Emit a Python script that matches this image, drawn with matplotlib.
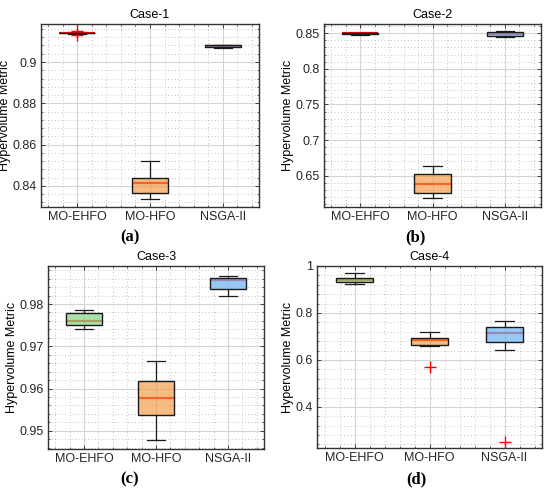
import matplotlib.pyplot as plt
from matplotlib.ticker import AutoMinorLocator, MultipleLocator

algorithms = ['MO-EHFO', 'MO-HFO', 'NSGA-II']
cases = ['Case-1', 'Case-2', 'Case-3', 'Case-4']
panel_tags = ['(a)', '(b)', '(c)', '(d)']

# per case: [lower whisker, Q1, median, Q3, upper whisker] for each algorithm
case1_stats = [
    [0.9138, 0.9139, 0.9140, 0.9142, 0.9143],
    [0.8337, 0.8368, 0.8416, 0.8437, 0.8523],
    [0.9068, 0.9072, 0.9076, 0.9080, 0.9083],
]
case2_stats = [
    [0.8475, 0.8485, 0.8497, 0.8502, 0.8510],
    [0.6182, 0.6261, 0.6383, 0.6524, 0.6640],
    [0.8445, 0.8455, 0.8490, 0.8511, 0.8525],
]
case3_stats = [
    [0.9740, 0.9750, 0.9759, 0.9778, 0.9787],
    [0.9478, 0.9537, 0.9578, 0.9618, 0.9665],
    [0.9820, 0.9835, 0.9858, 0.9861, 0.9866],
]
case4_stats = [
    [0.925, 0.932, 0.942, 0.950, 0.969],
    [0.659, 0.665, 0.683, 0.695, 0.719],
    [0.644, 0.676, 0.716, 0.739, 0.767],
]
case1_outliers = [[0.9148, 0.9133], [], []]
case2_outliers = [[], [], []]
case3_outliers = [[], [], []]
case4_outliers = [[], [0.572], [0.252]]

all_stats = [case1_stats, case2_stats, case3_stats, case4_stats]
all_outliers = [case1_outliers, case2_outliers, case3_outliers, case4_outliers]

ylims = [(0.8298, 0.9184), (0.606, 0.863), (0.9457, 0.989), (0.225, 1.0)]
yticks = [
    [0.84, 0.86, 0.88, 0.90],
    [0.65, 0.70, 0.75, 0.80, 0.85],
    [0.95, 0.96, 0.97, 0.98],
    [0.4, 0.6, 0.8, 1.0],
]
ytick_labels = [
    ['0.84', '0.86', '0.88', '0.9'],
    ['0.65', '0.7', '0.75', '0.8', '0.85'],
    ['0.95', '0.96', '0.97', '0.98'],
    ['0.4', '0.6', '0.8', '1'],
]

fill_colors = [(0.55, 0.85, 0.55, 0.75), (0.95, 0.60, 0.25, 0.65), (0.45, 0.72, 0.95, 0.75)]

plt.rcParams['font.family'] = ['Liberation Sans', 'DejaVu Sans']

fig = plt.figure(figsize=(5.5, 4.93), dpi=100)
W, H = 550, 493
# axes boxes in pixels: left, top, right, bottom
boxes_px = [(41, 24, 259, 207), (324, 24, 541, 207), (48, 266, 264, 449), (317, 266, 542, 448)]
tag_pos = [(130, 237), (415, 237), (130, 479), (416, 479)]

for i in range(4):
    l, t, r, b = boxes_px[i]
    ax = fig.add_axes([l / W, 1 - b / H, (r - l) / W, (b - t) / H])
    stats = []
    for j, name in enumerate(algorithms):
        lo, q1, med, q3, hi = all_stats[i][j]
        stats.append(dict(label=name, whislo=lo, q1=q1, med=med, q3=q3, whishi=hi,
                          fliers=all_outliers[i][j]))
    bp = ax.bxp(stats, positions=[1, 2, 3], widths=0.5, capwidths=0.25, patch_artist=True,
                boxprops=dict(edgecolor='#1a1a1a', linewidth=1.0, zorder=4),
                medianprops=dict(color='red', linewidth=1.6, zorder=3),
                whiskerprops=dict(color='#1a1a1a', linewidth=0.9),
                capprops=dict(color='#1a1a1a', linewidth=0.9),
                flierprops=dict(marker='+', markeredgecolor='red', markersize=8,
                                markeredgewidth=1.0, linestyle='none'))
    for patch, c in zip(bp['boxes'], fill_colors):
        patch.set_facecolor(c)

    ax.set_xlim(0.5, 3.5)
    ax.set_ylim(*ylims[i])
    ax.set_yticks(yticks[i])
    ax.set_yticklabels(ytick_labels[i])
    ax.yaxis.set_minor_locator(AutoMinorLocator(5))
    ax.xaxis.set_minor_locator(MultipleLocator(0.2))
    ax.grid(True, which='major', color='#d4d4d4', linewidth=0.8)
    ax.grid(True, which='minor', color='#b0b0b0', linewidth=0.6, linestyle=(0, (1, 3)))
    ax.set_axisbelow(True)
    ax.tick_params(which='both', direction='in', top=True, right=True, labelsize=9,
                   colors='#262626', pad=3)
    ax.tick_params(which='major', length=3, width=0.6)
    ax.tick_params(which='minor', length=1.5, width=0.5)
    for s in ax.spines.values():
        s.set_color('#333333')
        s.set_linewidth(1.0)
    ax.set_title(cases[i], fontsize=9, pad=4)
    ax.set_ylabel('Hypervolume Metric', fontsize=9, labelpad=1)

    tx, ty = tag_pos[i]
    fig.text(tx / W, 1 - ty / H, panel_tags[i], ha='center', va='center',
             fontsize=12, fontweight='bold', family=['Liberation Serif', 'DejaVu Serif'])

fig.savefig('out.png', dpi=100)
